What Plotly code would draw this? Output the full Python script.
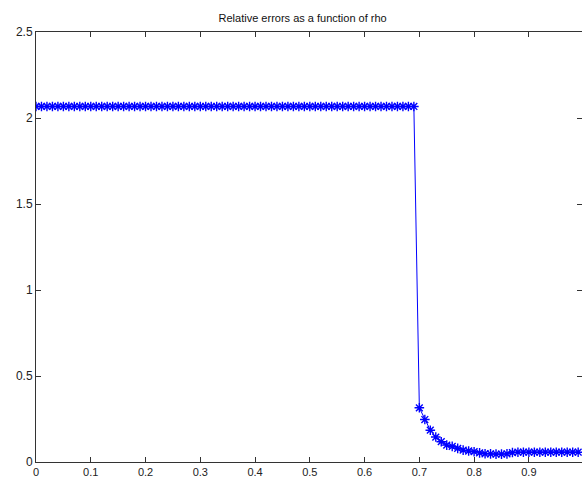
import plotly.graph_objects as go

rho = [round(i * 0.01, 2) for i in range(100)]
plateau = [2.067] * 70
tail = [0.315, 0.247, 0.185, 0.145, 0.118, 0.098, 0.091, 0.079, 0.069, 0.064,
        0.060, 0.053, 0.048, 0.047, 0.046, 0.046, 0.047, 0.055, 0.057, 0.057,
        0.057, 0.057, 0.057, 0.057, 0.057, 0.057, 0.057, 0.057, 0.057, 0.057]
rel_err = plateau + tail

x_ticks = [0, 0.1, 0.2, 0.3, 0.4, 0.5, 0.6, 0.7, 0.8, 0.9]
y_ticks = [0, 0.5, 1, 1.5, 2, 2.5]

fig = go.Figure()
fig.add_trace(go.Scatter(
    x=rho, y=rel_err, mode="lines+markers",
    line=dict(color="#0000ff", width=1),
    marker=dict(symbol="asterisk-open", size=8, color="#0000ff",
                line=dict(color="#0000ff", width=1.4)),
    showlegend=False,
))

axis_common = dict(
    showgrid=False, zeroline=False, showline=True, linecolor="#333333",
    linewidth=1, mirror="ticks", ticks="inside", ticklen=5, tickcolor="#333333",
    automargin=False,
)

fig.update_layout(
    width=582, height=477,
    margin=dict(l=36, r=0, t=32, b=15),
    paper_bgcolor="white", plot_bgcolor="white",
    title=dict(text="Relative errors as a function of rho", x=0.52, xanchor="center",
               y=0.962, yanchor="middle",
               font=dict(family="Liberation Sans, Arial, sans-serif", size=11, color="#111111")),
    xaxis=dict(range=[0, 0.997], tickvals=x_ticks, ticklabelstandoff=0,
               ticktext=[("%g" % v) for v in x_ticks],
               tickfont=dict(family="Liberation Sans, Arial, sans-serif", size=11, color="#222222"),
               **axis_common),
    yaxis=dict(range=[0, 2.5], tickvals=y_ticks,
               ticktext=[("%g" % v) for v in y_ticks],
               tickfont=dict(family="Liberation Sans, Arial, sans-serif", size=12, color="#222222"),
               **axis_common),
)

fig.write_html("out.html")
